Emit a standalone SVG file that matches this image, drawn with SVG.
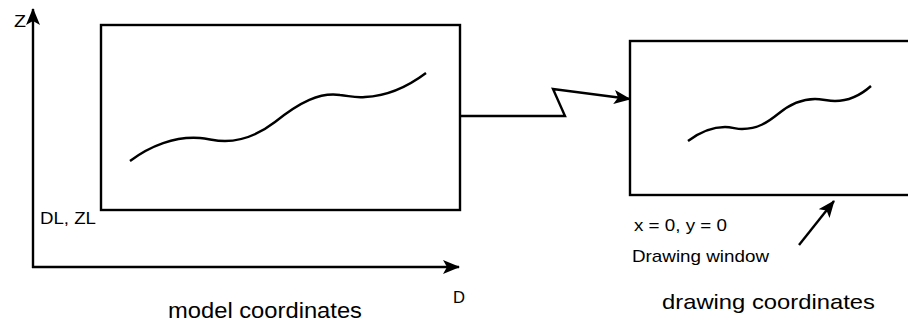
<svg xmlns="http://www.w3.org/2000/svg" width="908" height="324" viewBox="0 0 908 324">
<style>
.ln{fill:none;stroke:#000;stroke-width:2.4}
.t{font-family:"Liberation Sans",Arial,sans-serif;fill:#000}
</style>
<defs>
<marker id="ah" markerUnits="userSpaceOnUse" markerWidth="18" markerHeight="14" refX="16" refY="7" orient="auto">
<path d="M0,0 L17,7 L0,14 L4,7 Z" fill="#000"/>
</marker>
</defs>
<rect width="908" height="324" fill="#fff"/>
<g id="axes">
<line class="ln" x1="33" y1="268" x2="33" y2="9" marker-end="url(#ah)"/>
<line class="ln" x1="32" y1="267" x2="459" y2="267" marker-end="url(#ah)"/>
<text class="t" x="14" y="27" font-size="17" textLength="12" lengthAdjust="spacingAndGlyphs">Z</text>
<text class="t" x="453" y="303" font-size="17" textLength="12" lengthAdjust="spacingAndGlyphs">D</text>
<text class="t" x="40" y="224" font-size="17" textLength="56" lengthAdjust="spacingAndGlyphs">DL, ZL</text>
<text class="t" x="168" y="318" font-size="22" textLength="194" lengthAdjust="spacingAndGlyphs">model coordinates</text>
</g>
<g id="model-box">
<rect class="ln" x="101" y="25" width="359" height="185"/>
<path class="ln" d="M130,161 C150,146 175,136 200,138 C210,139 215,141 225,141 C245,141 262,132 275,122 C300,102 320,92 340,95 C350,96 355,98 365,97 C390,96 410,85 426,73"/>
</g>
<g id="drawing-box">
<rect class="ln" x="630" y="41" width="300" height="154"/>
<path class="ln" d="M688,141 C700,132 712,127 725,127 C732,127 736,129 742,129 C758,129 768,122 778,114 C790,104 802,99 815,99 C822,99 828,101 835,101 C850,101 862,94 871,86"/>
<text class="t" x="634" y="231" font-size="17" textLength="93" lengthAdjust="spacingAndGlyphs">x = 0, y = 0</text>
<text class="t" x="632" y="262" font-size="17" textLength="137" lengthAdjust="spacingAndGlyphs">Drawing window</text>
<text class="t" x="662" y="309" font-size="21" textLength="213" lengthAdjust="spacingAndGlyphs">drawing coordinates</text>
</g>
<g id="connectors">
<polyline class="ln" points="460,116 565,116 553,89 630,99" marker-end="url(#ah)"/>
<line class="ln" x1="799" y1="245" x2="834" y2="201" marker-end="url(#ah)"/>
</g>
</svg>
